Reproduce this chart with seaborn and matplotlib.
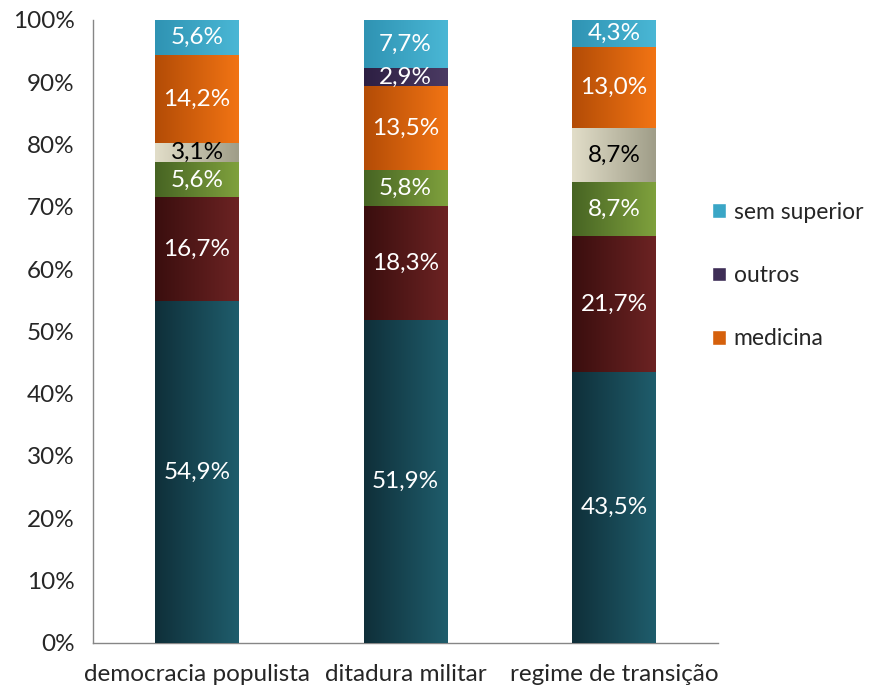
import numpy as np
import pandas as pd
import matplotlib
matplotlib.use("Agg")
import matplotlib.pyplot as plt
import seaborn as sns
from matplotlib.colors import to_rgb
from matplotlib.patches import Patch

# dados (% por periodo)
periodos = ["democracia populista", "ditadura militar", "regime de transição"]
series = ["direito", "engenharia", "economia", "militar", "medicina", "outros", "sem superior"]
direito = [54.9, 51.9, 43.5]
engenharia = [16.7, 18.3, 21.7]
economia = [5.6, 5.8, 8.7]
militar = [3.1, 0.0, 8.7]
medicina = [14.2, 13.5, 13.0]
outros = [0.0, 2.9, 0.0]
sem_superior = [5.6, 7.7, 4.3]
legenda = ["sem superior", "outros", "medicina"]

valores = np.array([direito, engenharia, economia, militar, medicina, outros, sem_superior])
# gradiente esquerda -> direita, como no Excel
grad = {
    "direito": ("#0f2f39", "#1f5d6c"),
    "engenharia": ("#3a0e0e", "#6c2323"),
    "economia": ("#476423", "#7fa13d"),
    "militar": ("#e2dec9", "#9f9d88"),
    "medicina": ("#b34c06", "#f27414"),
    "outros": ("#2d1f43", "#4b3b63"),
    "sem superior": ("#2f93b3", "#4ab7d5"),
}
cor_legenda = {"sem superior": "#3aa6c6", "outros": "#3e2e56", "medicina": "#d5600c"}

sns.set_style("white")
plt.rcParams["font.family"] = ["Lato", "DejaVu Sans"]
FS = 17.5

pct = valores / valores.sum(axis=0) * 100
topo = pct.cumsum(axis=0)
base = topo - pct

fig = plt.figure(figsize=(8.75, 6.89), dpi=100)
ax = fig.add_axes([0.106, 0.067, 0.715, 0.904])

# camadas acumuladas, da mais alta para a mais baixa
for k in range(len(series) - 1, -1, -1):
    df = pd.DataFrame({"periodo": periodos, "v": topo[k]})
    sns.barplot(data=df, x="periodo", y="v", color=grad[series[k]][1], width=0.4,
                ax=ax, saturation=1, zorder=2)

t = np.linspace(0, 1, 256)[None, :, None]
largura = 0.4
for k, nome in enumerate(series):
    c0, c1 = np.array(to_rgb(grad[nome][0])), np.array(to_rgb(grad[nome][1]))
    img = c0 + (c1 - c0) * t
    for i in range(len(periodos)):
        if pct[k, i] <= 0:
            continue
        ax.imshow(img, extent=[i - largura / 2, i + largura / 2, base[k, i], topo[k, i]],
                  aspect="auto", zorder=3, interpolation="bilinear")
        txt = ("%.1f%%" % valores[k, i]).replace(".", ",")
        ax.text(i, (base[k, i] + topo[k, i]) / 2, txt, ha="center", va="center",
                fontsize=FS, color="black" if nome == "militar" else "white", zorder=4)

ax.set_xlim(-0.5, 2.5)
ax.set_ylim(0, 100)
ax.set_yticks(range(0, 101, 10))
ax.set_yticklabels(["%d%%" % v for v in range(0, 101, 10)], fontsize=FS)
ax.set_xticks(range(len(periodos)))
ax.set_xticklabels(periodos, fontsize=FS)
ax.set_xticks([-0.5, 0.5, 1.5, 2.5], minor=True)
ax.tick_params(axis="x", which="major", length=0, pad=15)
ax.tick_params(axis="x", which="minor", length=8, width=1, color="#868686", direction="out")
ax.tick_params(axis="y", length=7, width=1, color="#868686", direction="out", pad=6)
ax.set_xlabel("")
ax.set_ylabel("")
for s in ["top", "right"]:
    ax.spines[s].set_visible(False)
for s in ["left", "bottom"]:
    ax.spines[s].set_color("#868686")
    ax.spines[s].set_linewidth(1)

handles = [Patch(facecolor=cor_legenda[n], label=n) for n in legenda]
fig.legend(handles=handles, loc="center left", bbox_to_anchor=(0.79, 0.6), frameon=False,
           fontsize=16.5, handlelength=0.6, handleheight=0.6, labelspacing=1.85, handletextpad=0.35)

fig.savefig("out.png", dpi=100)
